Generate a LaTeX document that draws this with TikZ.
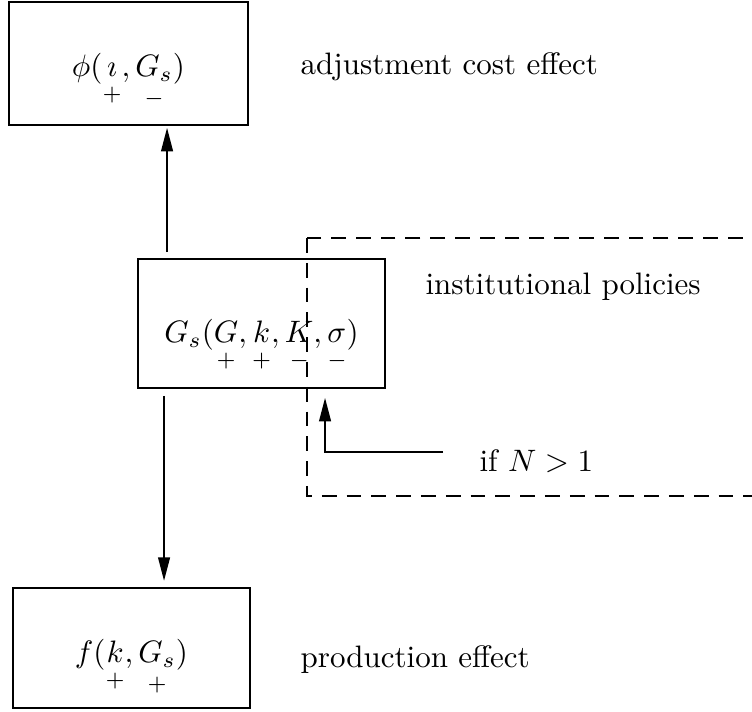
\documentclass[tikz,border=0pt]{standalone}
\usepackage{amsmath}
\usepackage{amssymb}
\usepackage{tikz}
\usetikzlibrary{positioning,arrows.meta}

\newcommand{\sgnd}[2]{\underset{\lower1.5pt\hbox{$\scriptstyle #1$}}{#2}}

\begin{document}
\begin{tikzpicture}[
    x=0.3226pt, y=-0.3226pt,
    box/.style={draw, line width=0.6pt, inner sep=0pt, anchor=base},
    arrow/.style={-{Triangle[length=7.6pt,width=3.8pt]}, line width=0.6pt},
    region/.style={draw, line width=0.6pt, dash pattern=on 4.8pt off 3.2pt},
    note/.style={inner sep=0pt, anchor=base west}
]
    \useasboundingbox (0,0) rectangle (752,712);
    \clip (0,0) rectangle (752,712);

    % boxes
    \node[box, minimum width=77.1pt, text height=24.2pt, text depth=15.5pt] (cost) at (128.5,77)
        {$\phi(\sgnd{+}{\imath}, \sgnd{-}{G_s})$};
    \node[box, minimum width=79.7pt, text height=27.1pt, text depth=14.5pt] (gs) at (261.5,343)
        {$G_s(\sgnd{+}{G}, \sgnd{+}{k}, \sgnd{-}{K}, \sgnd{-}{\sigma})$};
    \node[box, minimum width=76.5pt, text height=24.2pt, text depth=14.5pt] (prod) at (131.5,663)
        {$f(\sgnd{+}{k}, \sgnd{+}{G_s})$};

    % institutional region (runs off the right edge)
    \draw[region] (307,238) rectangle (800,496);

    % labels
    \node[note] (costlbl) at (300,75) {adjustment cost effect};
    \node[note] (instlbl) at (425,295) {institutional policies};
    \node[note] (prodlbl) at (300,668) {production effect};
    \node[note] (cond) at (479,472) {if $N>1$};

    % connectors
    \coordinate (up) at ([shift={(30,-6)}]gs.north west);
    \draw[arrow, shorten >=0.6pt] (up) -- (up |- cost.south);
    \coordinate (down) at ([shift={(27,7)}]gs.south west);
    \draw[arrow, shorten >=2pt] (down) -- (down |- prod.north);
    \coordinate (tap) at (443,452);
    \draw[arrow, shorten >=2.9pt] (tap) -| ([shift={(188,0)}]gs.south west);

\end{tikzpicture}
\end{document}
